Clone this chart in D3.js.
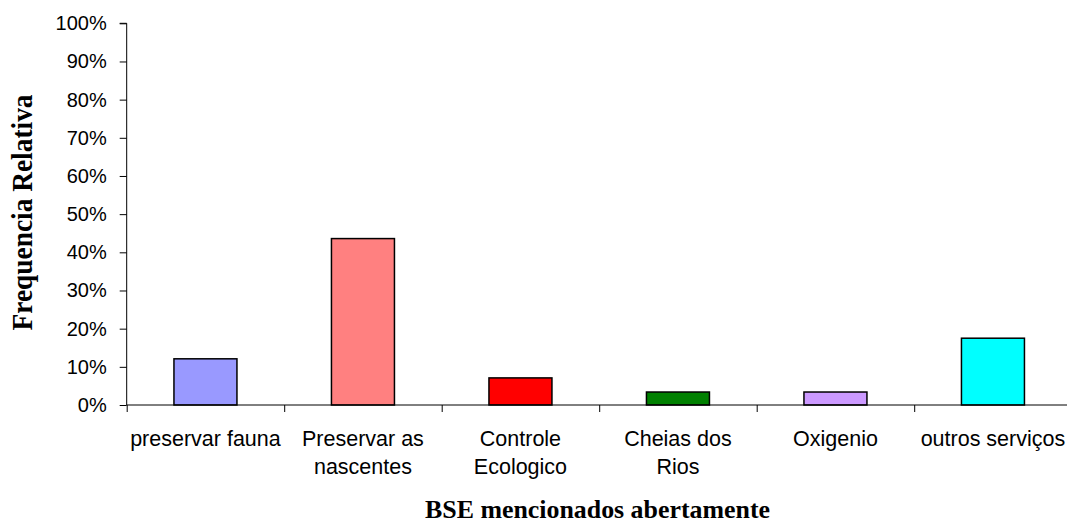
<!DOCTYPE html>
<html>
<head>
<meta charset="utf-8">
<script src="https://cdn.jsdelivr.net/npm/d3@7"></script>
<style>
  html, body { margin: 0; padding: 0; background: #fff; }
  svg { display: block; }
</style>
</head>
<body>
<svg id="chart" width="1067" height="523"></svg>
<script>
const categories = ["preservar fauna", "Preservar as\nnascentes", "Controle\nEcologico", "Cheias dos\nRios", "Oxigenio", "outros serviços"];
const values = [0.121, 0.436, 0.071, 0.034, 0.034, 0.175];
const barColors = ["#9999FF", "#FF8080", "#FF0000", "#008000", "#CC99FF", "#00FFFF"];
const yTicks = [0, 0.1, 0.2, 0.3, 0.4, 0.5, 0.6, 0.7, 0.8, 0.9, 1.0];
const yTitle = "Frequencia Relativa";
const xTitle = "BSE mencionados abertamente";

(function () {
const svg = d3.select("#chart");
const plotLeft = 126.7, plotTop = 23.3, plotBottom = 405, bandW = 157.5;

const x = d3.scaleBand()
  .domain(categories)
  .range([plotLeft, plotLeft + bandW * categories.length])
  .paddingInner(0.6).paddingOuter(0.3);
const y = d3.scaleLinear().domain([0, 1]).range([plotBottom, plotTop]);

// Bars
svg.append("g").selectAll("rect")
  .data(categories)
  .join("rect")
  .attr("x", d => x(d))
  .attr("y", (d, i) => y(values[i]))
  .attr("width", x.bandwidth())
  .attr("height", (d, i) => y(0) - y(values[i]))
  .attr("fill", (d, i) => barColors[i])
  .attr("stroke", "#000")
  .attr("stroke-width", 1.5);

// Y axis
const yAxis = d3.axisLeft(y)
  .tickValues(yTicks)
  .tickFormat(d3.format(".0%"))
  .tickSize(7)
  .tickPadding(13);
const gy = svg.append("g").attr("transform", `translate(${plotLeft},0)`).call(yAxis);
gy.select(".domain").attr("stroke", "#000").attr("stroke-width", 1).attr("d", `M-7,${plotTop}H0V${plotBottom}`);
gy.selectAll(".tick line").attr("stroke", "#000");
gy.selectAll(".tick text")
  .attr("font-family", "'Liberation Sans', Arial, sans-serif")
  .attr("font-size", 20)
  .attr("fill", "#000");

// X axis line & ticks at band boundaries
const xb = d3.scaleLinear().domain([0, categories.length]).range([plotLeft, plotLeft + bandW * categories.length]);
const gx = svg.append("g").attr("transform", `translate(0,${plotBottom})`)
  .call(d3.axisBottom(xb).tickValues(d3.range(0, categories.length + 1)).tickSize(7).tickFormat(""));
gx.select(".domain").attr("stroke", "#000").attr("d", `M${plotLeft},0H${plotLeft + bandW * categories.length}`);
gx.selectAll(".tick line").attr("stroke", "#000");

// Category labels
const lab = svg.append("g")
  .attr("font-family", "'Liberation Sans', Arial, sans-serif")
  .attr("font-size", 21.5)
  .attr("fill", "#000")
  .attr("text-anchor", "middle");
categories.forEach(c => {
  const lines = c.split("\n");
  const cx = x(c) + x.bandwidth() / 2;
  const t = lab.append("text").attr("x", cx).attr("y", 446);
  lines.forEach((ln, j) => {
    t.append("tspan").attr("x", cx).attr("y", 446 + j * 27.5).text(ln);
  });
});

// Y title
svg.append("text")
  .attr("transform", "translate(32,212.5) scale(1.12,1) rotate(-90)")
  .attr("text-anchor", "middle")
  .attr("font-family", "'Liberation Serif', 'Times New Roman', serif")
  .attr("font-weight", "bold")
  .attr("font-size", 26)
  .attr("textLength", 236)
  .attr("lengthAdjust", "spacingAndGlyphs")
  .text(yTitle);

// X title
svg.append("text")
  .attr("x", 597.5)
  .attr("y", 518)
  .attr("text-anchor", "middle")
  .attr("font-family", "'Liberation Serif', 'Times New Roman', serif")
  .attr("font-weight", "bold")
  .attr("font-size", 25)
  .attr("textLength", 345)
  .attr("lengthAdjust", "spacingAndGlyphs")
  .text(xTitle);
})();
</script>
</body>
</html>
